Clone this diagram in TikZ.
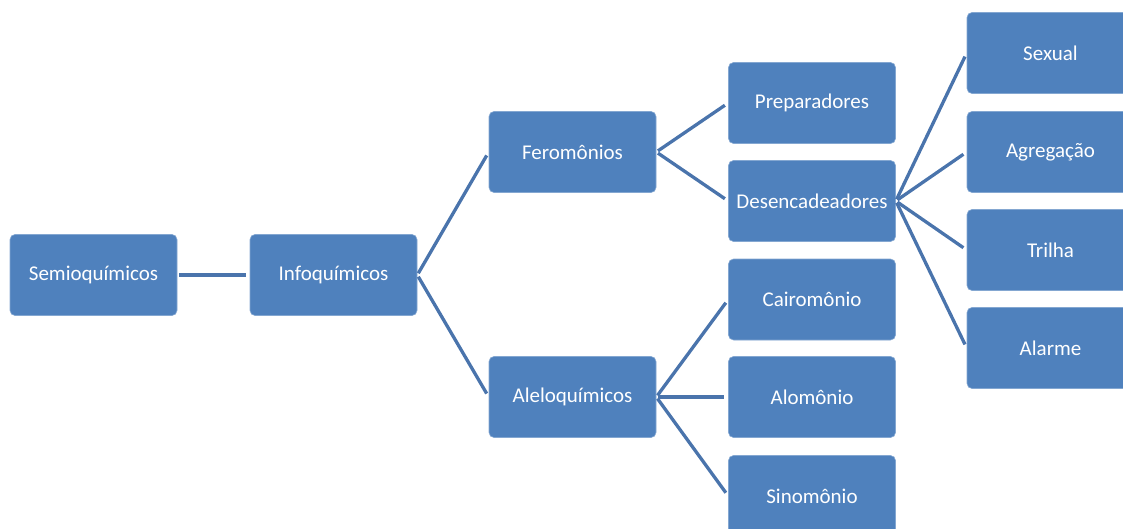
\documentclass[tikz,border=0pt]{standalone}
\usepackage{fontspec}
\setmainfont{Carlito}
\definecolor{boxblue}{HTML}{4F81BD}
\definecolor{lineblue}{HTML}{4A74AC}
\begin{document}
\begin{tikzpicture}[x=1pt,y=-1pt,
  box/.style={rectangle, rounded corners=5pt, fill=boxblue, draw=boxblue!70!white, line width=0.6pt,
    minimum width=167pt, minimum height=81pt, inner sep=0pt,
    text=white, font=\fontsize{21}{25}\selectfont},
  conn/.style={draw=lineblue, line width=3.3pt, shorten <=2pt, shorten >=4pt}]
\clip (0,0) rectangle (1123,529);
\useasboundingbox (0,0) rectangle (1123,529);
\node[box] (semi) at (93.5,275) {Semioquímicos};
\node[box] (info) at (333.5,275) {Infoquímicos};
\node[box] (fero) at (572.5,152) {Feromônios};
\node[box] (alelo) at (572.5,397) {Aleloquímicos};
\node[box] (prep) at (812,103) {Preparadores};
\node[box] (desen) at (812,201) {Desencadeadores};
\node[box] (cairo) at (812,299.5) {Cairomônio};
\node[box] (alom) at (812,397) {Alomônio};
\node[box] (sino) at (812,496) {Sinomônio};
\node[box] (sex) at (1050.5,53) {Sexual};
\node[box] (agr) at (1050.5,152) {Agregação};
\node[box] (tri) at (1050.5,250) {Trilha};
\node[box] (ala) at (1050.5,348) {Alarme};
\draw[conn] (semi.east) -- (info.west);
\draw[conn] (info.east) -- (fero.west);
\draw[conn] (info.east) -- (alelo.west);
\draw[conn] (fero.east) -- (prep.west);
\draw[conn] (fero.east) -- (desen.west);
\draw[conn] (alelo.east) -- (cairo.west);
\draw[conn] (alelo.east) -- (alom.west);
\draw[conn] (alelo.east) -- (sino.west);
\draw[conn] (desen.east) -- (sex.west);
\draw[conn] (desen.east) -- (agr.west);
\draw[conn] (desen.east) -- (tri.west);
\draw[conn] (desen.east) -- (ala.west);
\end{tikzpicture}
\end{document}
